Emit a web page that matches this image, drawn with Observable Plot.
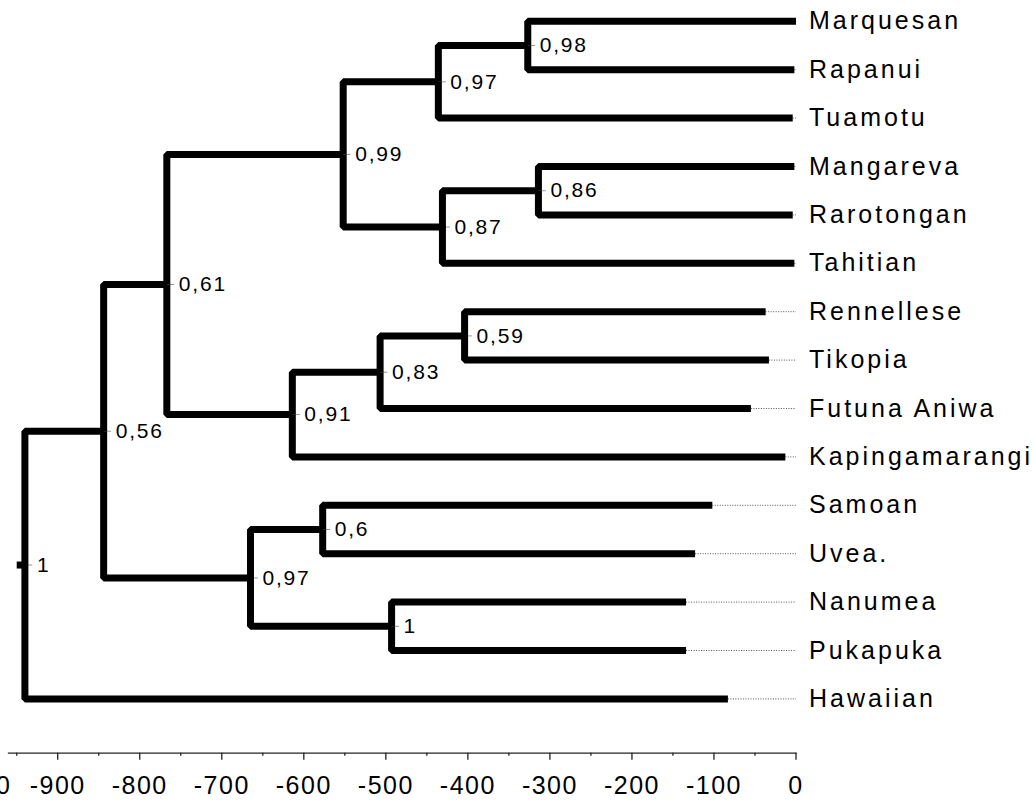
<!DOCTYPE html>
<html><head><meta charset="utf-8">
<script src="https://cdn.jsdelivr.net/npm/d3@7"></script>
<script src="https://cdn.jsdelivr.net/npm/@observablehq/plot@0.6"></script>
<style>
html,body{margin:0;padding:0;background:#fff;}
#chart svg{display:block;}
</style></head><body><div id="chart"></div>
<script>
// Leaves (top to bottom) and the x value where each terminal branch ends
const leaves = ["Marquesan","Rapanui","Tuamotu","Mangareva","Rarotongan","Tahitian","Rennellese","Tikopia","Futuna Aniwa","Kapingamarangi","Samoan","Uvea.","Nanumea","Pukapuka","Hawaiian"];
const leafEnd = [0,-2,-4,-2,-4,-2,-37,-33,-55,-13,-102,-123,-134,-134,-83];

// Internal nodes: age (x), support label, children
const nodes = ["n98","n97a","n86","n87","n99","n59","n83","n91","n61","n6","n1","n97b","n56","root"];
const nodeAge = [-327,-436,-314,-431,-552,-404,-507,-614,-767,-577,-493,-665,-844,-940];
const nodeSupport = ["0,98","0,97","0,86","0,87","0,99","0,59","0,83","0,91","0,61","0,6","1","0,97","0,56","1"];
const nodeChildren = [["Marquesan","Rapanui"],["n98","Tuamotu"],["Mangareva","Rarotongan"],["n86","Tahitian"],["n97a","n87"],["Rennellese","Tikopia"],["n59","Futuna Aniwa"],["n83","Kapingamarangi"],["n99","n91"],["Samoan","Uvea."],["Nanumea","Pukapuka"],["n6","n1"],["n61","n97b"],["n56","Hawaiian"]];
const rootStubStart = -950;

// Axis ticks
const majorTicks = d3.range(-1000, 1, 100);
const minorTicks = d3.range(-950, 1, 100);

// Layout
const pos = new Map();
leaves.forEach((n, i) => pos.set(n, {x: leafEnd[i], y: i}));
nodes.forEach((n, i) => {
  const ys = nodeChildren[i].map(c => pos.get(c).y);
  pos.set(n, {x: nodeAge[i], y: d3.mean(ys)});
});
const segs = [];
nodes.forEach((n, i) => {
  const p = pos.get(n);
  nodeChildren[i].forEach(c => {
    const q = pos.get(c), id = n + "-" + c;
    segs.push({id, x: p.x, y: p.y}, {id, x: p.x, y: q.y}, {id, x: q.x, y: q.y});
  });
});
const r = pos.get("root");
segs.push({id: "stub", x: rootStubStart, y: r.y}, {id: "stub", x: r.x, y: r.y});

const font = "'Liberation Sans', Arial, Helvetica, sans-serif";

const chart = Plot.plot({
  width: 1033,
  height: 803,
  marginLeft: 8,
  marginRight: 237.5,
  marginTop: 0,
  marginBottom: 50.3,
  style: {fontFamily: font, background: "white", color: "black"},
  x: {domain: [-960, 0]},
  y: {domain: [0, 14], range: [20.8, 698.4], axis: null},
  marks: [
    Plot.link(leaves, {x1: (d, i) => leafEnd[i], x2: 0, y1: (d, i) => i, y2: (d, i) => i, stroke: "#555", strokeWidth: 1, strokeDasharray: "1,1.5"}),
    Plot.link(nodes, {x1: (d, i) => nodeAge[i], x2: (d, i) => nodeAge[i] + 9, y1: d => pos.get(d).y, y2: d => pos.get(d).y, stroke: "#999", strokeWidth: 1}),
    Plot.line(segs, {x: "x", y: "y", z: "id", stroke: "black", strokeWidth: 7, strokeLinejoin: "miter", strokeLinecap: "butt"}),
    Plot.text(leaves, {x: 0, y: (d, i) => i, text: d => d, textAnchor: "start", dx: 13, fontSize: 25, fill: "black", ariaLabel: () => "leaf label"}),
    Plot.text(nodes, {x: d => pos.get(d).x, y: d => pos.get(d).y, text: (d, i) => nodeSupport[i], textAnchor: "start", dx: 12, fontSize: 21, fill: "black", ariaLabel: () => "node label"}),
    Plot.frame({anchor: "bottom", stroke: "#222", strokeWidth: 1.3}),
    Plot.axisX({ticks: majorTicks, tickSize: 7, tickPadding: 16, fontSize: 25, tickFormat: d => String(d), label: null, stroke: "#222", strokeWidth: 1.3}),
    Plot.axisX({ticks: minorTicks, tickSize: 3, tickFormat: () => "", label: null, stroke: "#222", strokeWidth: 1.3})
  ]
});
d3.select(chart).selectAll('text[aria-label="leaf label"]').style("letter-spacing", "3px");
d3.select(chart).selectAll('text[aria-label="node label"]').style("letter-spacing", "1.8px");
d3.select(chart).selectAll('g[aria-label="x-axis tick label"] text').style("letter-spacing", "1.5px");
document.getElementById("chart").appendChild(chart);
</script></body></html>
